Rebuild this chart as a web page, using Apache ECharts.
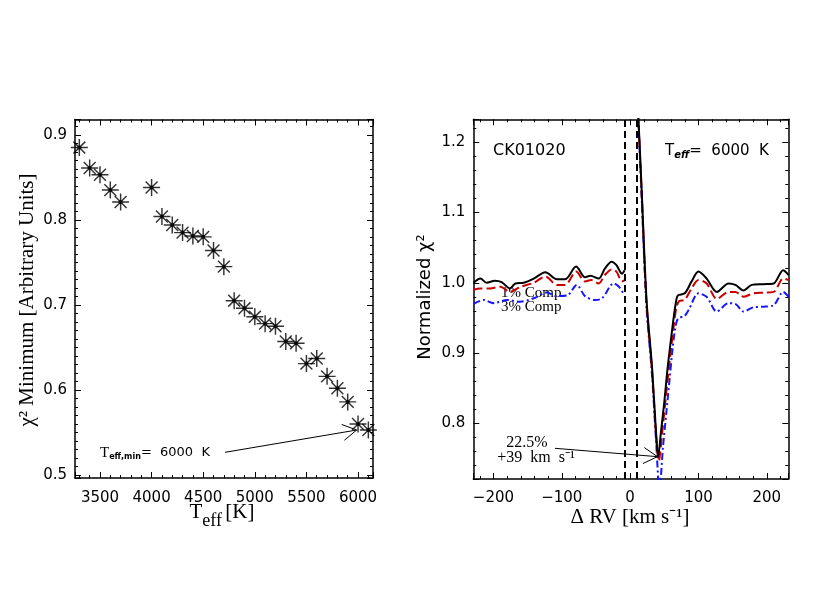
<!DOCTYPE html>
<html><head><meta charset="utf-8">
<script src="https://cdn.jsdelivr.net/npm/echarts@6/dist/echarts.min.js"></script>
<style>html,body{margin:0;padding:0;background:#fff}#c{width:830px;height:600px}</style>
</head><body><div id="c"></div>
<script>
// ---------- Left panel: chi^2 minimum vs Teff ----------
const teff = [3300,3400,3500,3600,3700,4000,4100,4200,4300,4400,4500,4600,4700,4800,4900,5000,5100,5200,5300,5400,5500,5600,5700,5800,5900,6000,6100];
const chi2Min = [0.885,0.861,0.853,0.835,0.821,0.838,0.804,0.794,0.785,0.781,0.780,0.764,0.745,0.705,0.696,0.686,0.678,0.675,0.657,0.655,0.631,0.637,0.616,0.602,0.586,0.560,0.553];

// ---------- Right panel: normalized chi^2 vs delta RV ----------
const blackRV  = [-229,-219,-210,-198,-188,-176,-168,-156,-141,-124,-107,-95,-79,-66,-58,-46,-37,-27,-20,-12,-8,0,10,17,24,32,38,41,45,50,55,63,67,70,80,90,100,112,127,144,154,166,178,195,210,224,232];
const blackChi = [1.000,1.006,1.000,1.003,1.001,0.992,0.999,1.000,1.006,1.015,1.005,1.005,1.023,1.008,1.010,1.006,1.020,1.030,1.025,1.013,1.018,null,1.28,1.13,0.976,0.881,0.786,0.7525,0.786,0.830,0.880,0.945,0.972,0.982,0.985,1.002,1.016,1.006,0.987,0.999,0.997,0.989,0.997,0.998,0.999,1.018,1.011];

const redRV  = [-229,-219,-205,-190,-176,-161,-141,-124,-107,-95,-79,-66,-57,-46,-37,-27,-20,-12,-7,0,10,17,24,32,38,42,46,51,56,64,68,72,80,90,100,112,127,144,154,166,180,195,210,224,232];
const redChi = [0.990,0.992,0.992,0.9945,0.987,0.994,1.000,1.009,0.997,0.997,1.016,1.002,1.004,0.999,1.011,1.019,1.016,1.002,1.004,null,1.28,1.125,0.970,0.875,0.783,0.746,0.778,0.825,0.872,0.940,0.966,0.974,0.976,0.992,1.004,0.999,0.977,0.987,0.987,0.980,0.985,0.986,0.987,1.006,1.004];

const blueRV  = [-229,-214,-200,-180,-161,-141,-122,-107,-92,-78,-66,-51,-41,-24,-17,-10,0,10,17,24,32,38,43,48,53,58,62,66,70,80,86,100,112,127,144,154,166,180,195,210,224,232];
const blueChi = [0.970,0.9755,0.971,0.9755,0.973,0.978,0.986,0.981,0.982,0.997,0.981,0.9755,0.978,0.999,0.995,0.985,null,1.28,1.12,0.965,0.870,0.775,0.705,0.765,0.815,0.865,0.905,0.935,0.949,0.953,0.962,0.985,0.980,0.959,0.971,0.970,0.959,0.965,0.966,0.968,0.987,0.980];

const maskEdges = [-8.5, 10];      // dashed vertical lines (km/s)
const teffArrow = [[4711, 0.5267], [5987, 0.5529]];   // left panel annotation arrow (tail, tip)
const rvArrow = [[-110, 0.7644], [40, 0.7525]];       // right panel annotation arrow (tail, tip)

const SANS = 'DejaVu Sans', SERIF = 'Liberation Serif';
const pairs = (xs, ys) => xs.map((x, i) => [x, ys[i] === null ? '-' : ys[i]]);

function axis(gridIndex, pos, min, max, splitNumber, minorSplit, labels, fmt, margin) {
  return {
    type: 'value', gridIndex, position: pos, min, max, splitNumber,
    axisLine: {show: true, onZero: false, lineStyle: {color: '#000', width: 1.5}},
    axisTick: {show: true, inside: true, length: 6, lineStyle: {color: '#000', width: 1}},
    minorTick: {show: true, splitNumber: minorSplit, length: 3, lineStyle: {color: '#000', width: 1}},
    splitLine: {show: false}, minorSplitLine: {show: false},
    axisLabel: {show: labels, margin: margin || 8, color: '#000', fontFamily: SANS, fontSize: 15,
      showMinLabel: false, showMaxLabel: false, formatter: fmt}
  };
}
const f1 = v => v.toFixed(1);
const fInt = v => (v < 0 ? '\u2212' + Math.abs(v) : String(v));

const arrowLine = {color: '#000', width: 1, type: 'solid'};
function mk(data) {
  return {silent: true, animation: false, symbol: ['none', 'none'], label: {show: false},
    lineStyle: arrowLine, emphasis: {disabled: true}, data: data};
}

const option = {
  animation: false,
  backgroundColor: '#fff',
  grid: [
    {left: 75, top: 119.5, width: 298, height: 358.5, outerBoundsMode: 'none'},
    {left: 473.3, top: 119.3, width: 315, height: 359.7, outerBoundsMode: 'none'}
  ],
  xAxis: [
    axis(0, 'bottom', 3258, 6145, 5, 5, true, v => String(v), 13),
    axis(0, 'top', 3258, 6145, 5, 5, false),
    axis(1, 'bottom', -229.5, 231.5, 4, 5, true, fInt, 12),
    axis(1, 'top', -229.5, 231.5, 4, 5, false)
  ],
  yAxis: [
    axis(0, 'left', 0.4965, 0.918, 4, 10, true, f1),
    axis(0, 'right', 0.4965, 0.918, 4, 10, false),
    axis(1, 'left', 0.7207, 1.2327, 5, 5, true, f1),
    axis(1, 'right', 0.7207, 1.2327, 5, 5, false)
  ],
  series: [
    {
      id: 'stars', type: 'scatter', xAxisIndex: 0, yAxisIndex: 0, data: pairs(teff, chi2Min),
      symbol: 'path://M0,10L20,10M10,0L10,20M3,3L17,17M3,17L17,3', symbolSize: 17,
      itemStyle: {color: 'none', borderColor: '#000', borderWidth: 1.45}, silent: true, z: 3,
      markLine: mk([[{coord: teffArrow[0]}, {coord: teffArrow[1]}]])
    },
    {
      type: 'scatter', xAxisIndex: 0, yAxisIndex: 0, data: pairs(teff, chi2Min),
      symbol: 'circle', symbolSize: 4, itemStyle: {color: '#000'}, silent: true, z: 4
    },
    {
      type: 'line', xAxisIndex: 2, yAxisIndex: 2, data: pairs(blueRV, blueChi),
      showSymbol: false, smooth: 0.3, silent: true, z: 3,
      lineStyle: {color: '#1515ff', width: 2, type: [7, 3, 2, 3]},
      markLine: {
        silent: true, animation: false, symbol: ['none', 'none'], label: {show: false},
        lineStyle: {color: '#000', width: 2, type: [7, 4]}, emphasis: {disabled: true},
        data: maskEdges.map(v => ({xAxis: v}))
      }
    },
    {
      type: 'line', xAxisIndex: 2, yAxisIndex: 2, data: pairs(redRV, redChi),
      showSymbol: false, smooth: 0.3, silent: true, z: 4,
      lineStyle: {color: '#c80000', width: 2, type: [9, 4]}
    },
    {
      id: 'black', type: 'line', xAxisIndex: 2, yAxisIndex: 2, data: pairs(blackRV, blackChi),
      showSymbol: false, smooth: 0.3, silent: true, z: 5,
      lineStyle: {color: '#000', width: 2},
      markLine: mk([[{coord: rvArrow[0]}, {coord: rvArrow[1]}]])
    }
  ],
  graphic: [
    {type: 'text', x: 27, y: 300, rotation: Math.PI / 2, silent: true,
      style: {text: 'χ² Minimum [Arbitrary Units]', font: '21px "Liberation Serif"', fill: '#000', align: 'center', verticalAlign: 'middle'}},
    {type: 'text', x: 222, y: 512, silent: true,
      style: {text: '{t|T}{s|eff} {t|[K]}', align: 'center', verticalAlign: 'middle', fill: '#000',
        rich: {t: {fontFamily: SERIF, fontSize: 21}, s: {fontFamily: SERIF, fontSize: 18, padding: [19, 0, 0, 0]}}}},
    {type: 'text', x: 100, y: 453, silent: true,
      style: {text: '{t|T}{s|eff,min}{n|=  6000  K}', align: 'left', verticalAlign: 'middle', fill: '#000',
        rich: {t: {fontFamily: SERIF, fontSize: 15}, s: {fontFamily: SANS, fontSize: 8, fontWeight: 'bold', padding: [8, 0, 0, 0]},
          n: {fontFamily: SANS, fontSize: 13}}}},
    {type: 'text', x: 425, y: 297, rotation: Math.PI / 2, silent: true,
      style: {text: 'Normalized χ²', font: '18px "DejaVu Sans"', fill: '#000', align: 'center', verticalAlign: 'middle'}},
    {type: 'text', x: 630, y: 517, silent: true,
      style: {text: 'Δ RV [km s⁻¹]', font: '21px "Liberation Serif"', fill: '#000', align: 'center', verticalAlign: 'middle'}},
    {type: 'text', x: 493, y: 151, silent: true,
      style: {text: 'CK01020', font: '16px "DejaVu Sans"', fill: '#000', align: 'left', verticalAlign: 'middle'}},
    {type: 'text', x: 665, y: 151, silent: true,
      style: {text: '{t|T}{s|eff}{n|=  6000  K}', align: 'left', verticalAlign: 'middle', fill: '#000',
        rich: {t: {fontFamily: SANS, fontSize: 15}, s: {fontFamily: SANS, fontSize: 10, fontWeight: 'bold', fontStyle: 'italic', padding: [9, 0, 0, 0]},
          n: {fontFamily: SANS, fontSize: 15}}}},
    {type: 'text', x: 501, y: 293, silent: true,
      style: {text: '1% Comp', font: '15px "Liberation Serif"', fill: '#000', align: 'left', verticalAlign: 'middle'}},
    {type: 'text', x: 501, y: 307, silent: true,
      style: {text: '3% Comp', font: '15px "Liberation Serif"', fill: '#000', align: 'left', verticalAlign: 'middle'}},
    {type: 'text', x: 527, y: 443, silent: true,
      style: {text: '22.5%', font: '16px "Liberation Serif"', fill: '#000', align: 'center', verticalAlign: 'middle'}},
    {type: 'text', x: 536, y: 458, silent: true,
      style: {text: '+39  km  s⁻¹', font: '16px "Liberation Serif"', fill: '#000', align: 'center', verticalAlign: 'middle'}}
  ]
};

const chart = echarts.init(document.getElementById('c'), null, {renderer: 'canvas'});
chart.setOption(option);

// Arrowheads: open chevrons built in pixel space, converted back to data coordinates.
function arrowSegments(gridIndex, tail, tip) {
  const f = {gridIndex: gridIndex};
  const p0 = chart.convertToPixel(f, tail), p1 = chart.convertToPixel(f, tip);
  const dx = p0[0] - p1[0], dy = p0[1] - p1[1], L = Math.hypot(dx, dy);
  const ux = dx / L, uy = dy / L, len = 16, a = 30 * Math.PI / 180;
  const segs = [[{coord: tail}, {coord: tip}]];
  [a, -a].forEach(t => {
    const ex = p1[0] + len * (ux * Math.cos(t) - uy * Math.sin(t));
    const ey = p1[1] + len * (ux * Math.sin(t) + uy * Math.cos(t));
    segs.push([{coord: chart.convertFromPixel(f, [ex, ey])}, {coord: tip}]);
  });
  return segs;
}
chart.setOption({series: [
  {id: 'stars', markLine: mk(arrowSegments(0, teffArrow[0], teffArrow[1]))},
  {id: 'black', markLine: mk(arrowSegments(1, rvArrow[0], rvArrow[1]))}
]});
</script>
</body></html>
